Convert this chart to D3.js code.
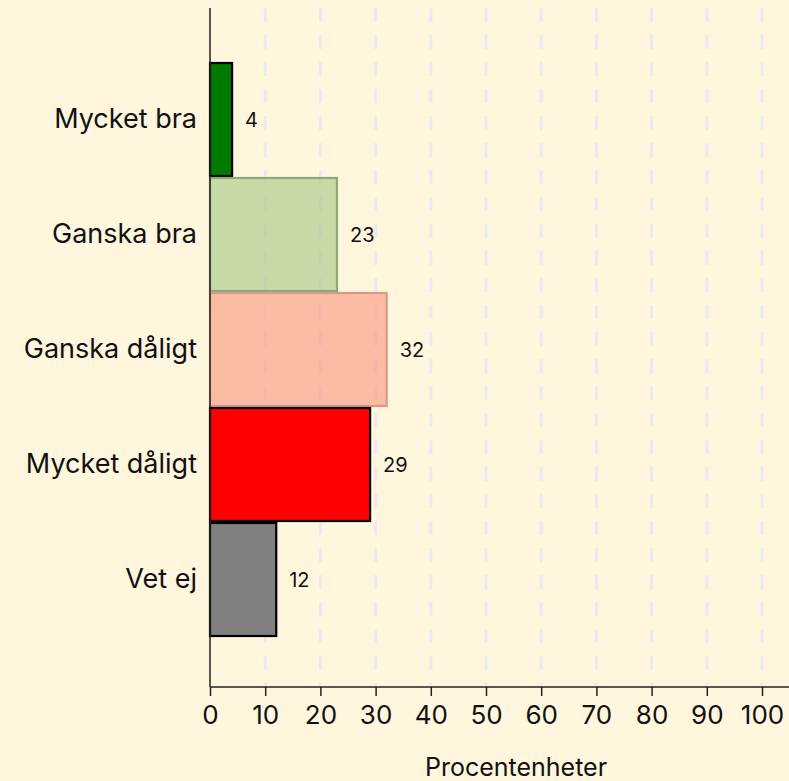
<!DOCTYPE html>
<html>
<head>
<meta charset="utf-8">
<script src="https://cdn.jsdelivr.net/npm/d3@7"></script>
<style>
  html, body { margin: 0; padding: 0; background: #fff6dd; }
  svg { display: block; }
  text { font-family: Inter, "Open Sans", sans-serif; fill: #111; }
</style>
</head>
<body>
<svg id="chart" width="789" height="781"></svg>
<script>
const categories = ["Mycket bra", "Ganska bra", "Ganska dåligt", "Mycket dåligt", "Vet ej"];
const values = [4, 23, 32, 29, 12];
const fills = ["#007a00", "#8fbe6d", "#fa8a72", "#ff0000", "#808080"];
const fillOpacities = [1, 0.5, 0.55, 1, 1];
const strokes = ["#000000", "#8aaa78", "#d8998a", "#000000", "#000000"];
const xTicks = [0, 10, 20, 30, 40, 50, 60, 70, 80, 90, 100];
const xTitle = "Procentenheter";

const svg = d3.select("#chart");
const W = 789, H = 781;
svg.append("rect").attr("width", W).attr("height", H).attr("fill", "#fff6dd");

const x = d3.scaleLinear().domain([0, 100]).range([210, 762]);
const y = d3.scaleBand().domain(categories).range([62, 637]).padding(0);
const axisY = 687;

// grid lines (dashed)
const grid = svg.append("g");
grid.selectAll("line").data(xTicks.filter(t => t > 0)).join("line")
  .attr("x1", d => x(d)).attr("x2", d => x(d))
  .attr("y1", 8).attr("y2", axisY)
  .attr("stroke", "#ebebef")
  .attr("stroke-width", 3)
  .attr("stroke-dasharray", "14,13");

// bars
const bars = svg.append("g");
bars.selectAll("rect").data(categories).join("rect")
  .attr("x", x(0))
  .attr("y", d => y(d) + 1)
  .attr("width", (d, i) => x(values[i]) - x(0))
  .attr("height", y.bandwidth() - 2)
  .attr("fill", (d, i) => fills[i])
  .attr("fill-opacity", (d, i) => fillOpacities[i])
  .attr("stroke", (d, i) => strokes[i])
  .attr("stroke-width", 2.2);

// value labels
svg.append("g").selectAll("text").data(categories).join("text")
  .attr("x", (d, i) => x(values[i]) + 13)
  .attr("y", d => y(d) + y.bandwidth() / 2)
  .attr("dy", "0.35em")
  .style("font-size", "20px")
  .text((d, i) => values[i]);

// y axis
const yAxis = d3.axisLeft(y).tickSize(0).tickPadding(13);
const gy = svg.append("g").attr("transform", `translate(${x(0)},0)`).call(yAxis);
gy.select(".domain").remove();
gy.selectAll("text").style("font-size", "27px").style("font-family", "Inter, sans-serif").attr("fill", "#111");
svg.append("line").attr("x1", x(0)).attr("x2", x(0)).attr("y1", 8).attr("y2", axisY)
  .attr("stroke", "#222").attr("stroke-width", 1.5);

// x axis
const xAxis = d3.axisBottom(x).tickValues(xTicks).tickSize(9).tickPadding(10).tickFormat(d3.format("d"));
const gx = svg.append("g").attr("transform", `translate(0,${axisY})`).call(xAxis);
gx.select(".domain").attr("d", `M${x(0)},0H${W}`).attr("stroke", "#222").attr("stroke-width", 1.5);
gx.selectAll(".tick line").attr("stroke", "#222").attr("stroke-width", 1.5);
gx.selectAll("text").style("font-size", "26px").style("font-family", "Inter, sans-serif").attr("fill", "#111");

svg.append("text")
  .attr("x", 516)
  .attr("y", 776)
  .attr("text-anchor", "middle")
  .style("font-size", "25px")
  .text(xTitle);
</script>
</body>
</html>
